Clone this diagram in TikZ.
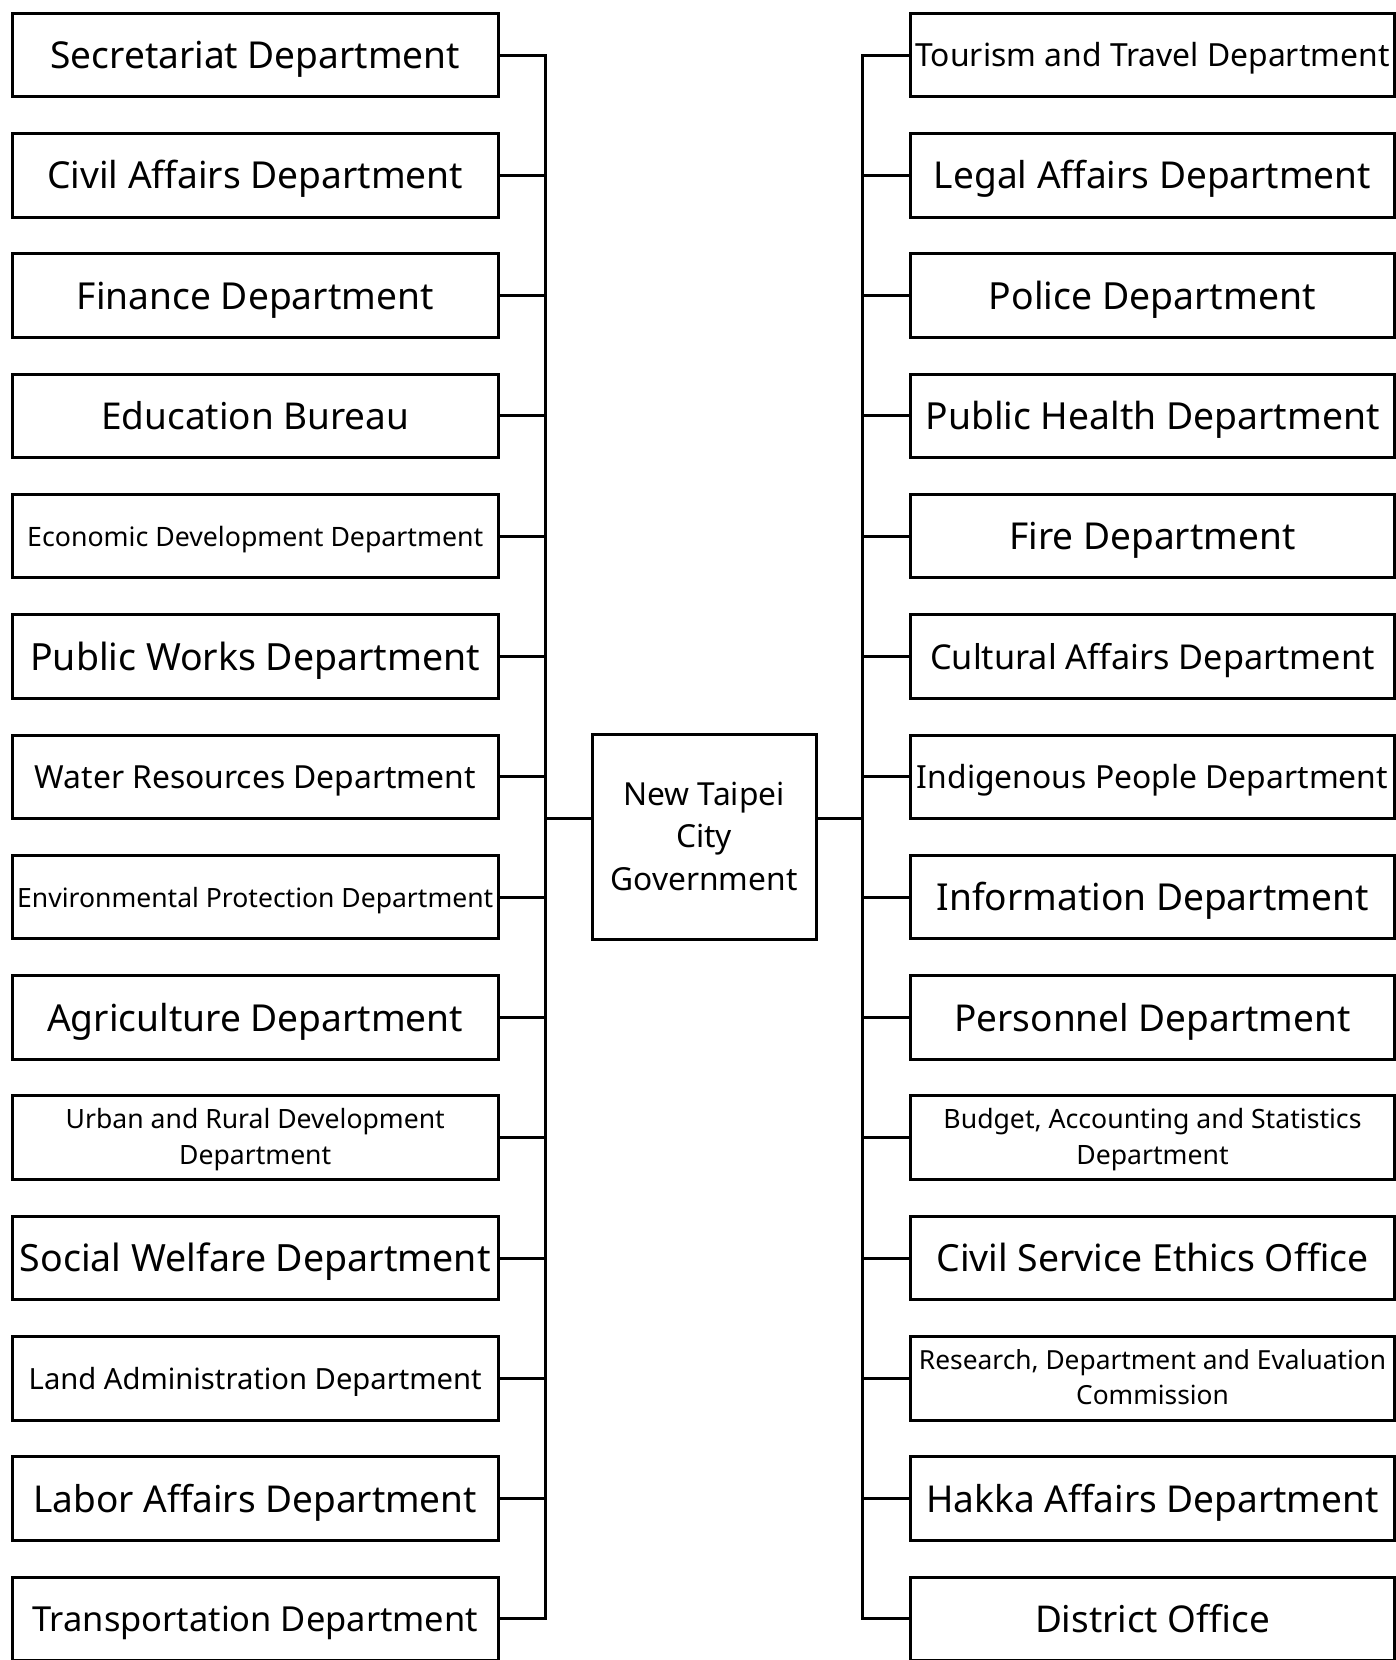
\documentclass[tikz,border=0pt]{standalone}
\usepackage{fontspec}
\usepackage{graphicx}
\setmainfont{Noto Sans}
\newcommand{\fitlabel}[3]{\raisebox{-#2pt}[\height][\depth]{\resizebox{#1pt}{!}{\renewcommand{\arraystretch}{1.12}\begin{tabular}{@{}c@{}}#3\end{tabular}}}}
\begin{document}
\begin{tikzpicture}[x=1pt,y=-1pt,
  dept/.style={draw, rectangle, minimum height=83.5pt, inner sep=0pt, line width=3pt},
  ldept/.style={dept, minimum width=485.5pt},
  rdept/.style={dept, minimum width=484pt},
  govbox/.style={draw, rectangle, minimum width=224pt, minimum height=205pt, inner sep=0pt, line width=3pt},
  wire/.style={line width=3pt},
  bus/.style={line width=3pt, line cap=rect}]
\useasboundingbox (0,0) rectangle (1396,1660);
\clip (0,0) rectangle (1396,1660);
\foreach \i/\w/\s/\t in {
  0/409.6/3.7/{Secretariat Department},
  1/416/3.7/{Civil Affairs Department},
  2/356.7/3.7/{Finance Department},
  3/308/3.7/{Education Bureau},
  4/456/3/{Economic Development Department},
  5/450/3.7/{Public Works Department},
  6/441/3.5/{Water Resources Department},
  7/476/3/{Environmental Protection Department},
  8/416/3.7/{Agriculture Department},
  9/379/1.8/{Urban and Rural Development\\Department},
  10/471/3.7/{Social Welfare Department},
  11/453/3.2/{Land Administration Department},
  12/443.5/3.7/{Labor Affairs Department},
  13/445.6/3.7/{Transportation Department}}
{
  \node[ldept] (L\i) at (255.25,{55+120.3*\i}) {\fitlabel{\w}{\s}{\t}};
  \coordinate (lb\i) at (545,{55+120.3*\i});
  \draw[wire] (L\i.east) -- (lb\i);
}
\foreach \i/\w/\s/\t in {
  0/474/3.2/{Tourism and Travel Department},
  1/437/3.7/{Legal Affairs Department},
  2/327/3.7/{Police Department},
  3/454/3.7/{Public Health Department},
  4/286/3.7/{Fire Department},
  5/444.5/3.5/{Cultural Affairs Department},
  6/471/3.3/{Indigenous People Department},
  7/432/3.7/{Information Department},
  8/396/3.7/{Personnel Department},
  9/418/1.8/{Budget, Accounting and Statistics\\Department},
  10/432/3.7/{Civil Service Ethics Office},
  11/467/1.8/{Research, Department and Evaluation\\Commission},
  12/452/3.7/{Hakka Affairs Department},
  13/235/3.7/{District Office}}
{
  \node[rdept] (R\i) at (1152.5,{55+120.3*\i}) {\fitlabel{\w}{\s}{\t}};
  \coordinate (rb\i) at (862.5,{55+120.3*\i});
  \draw[wire] (rb\i) -- (R\i.west);
}
\draw[bus] (lb0) -- (lb13);
\draw[bus] (rb0) -- (rb13);
\node[govbox] (gov) at (704,837) {\fitlabel{187}{2.2}{New Taipei\\City\\Government}};
\coordinate (lc) at (545,818);
\coordinate (rc) at (862.5,818);
\draw[wire] (lc) -- (lc -| gov.west);
\draw[wire] (gov.east |- rc) -- (rc);
\end{tikzpicture}
\end{document}
